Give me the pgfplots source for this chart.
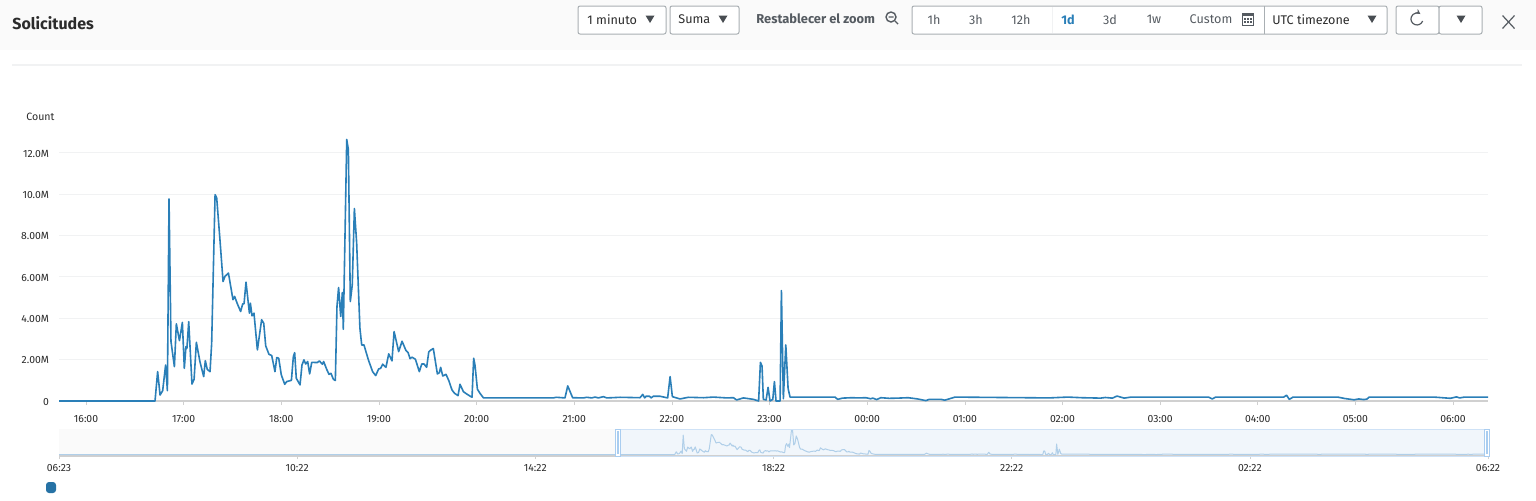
\documentclass[border=0pt]{standalone}
\usepackage{fontspec}
\setmainfont{Fira Sans}
\usepackage{pgfplots}
\usepackage{pgfplotstable}
\usetikzlibrary{arrows.meta}
\pgfplotsset{compat=1.18}

\definecolor{linecol}{HTML}{2A7FB8}
\definecolor{navline}{HTML}{B0CFE9}
\definecolor{gridcol}{HTML}{F1F2F3}
\definecolor{axiscol}{HTML}{D0D0D0}
\definecolor{headbg}{HTML}{FAFAFA}
\definecolor{boxcol}{HTML}{A9AFB3}
\definecolor{textcol}{HTML}{2B2B2B}
\definecolor{mutecol}{HTML}{555B61}
\definecolor{navsel}{HTML}{F1F6FB}
\definecolor{navedge}{HTML}{CFE2F6}
\definecolor{navhandle}{HTML}{A9CDF0}

% t = minutes since 16:00, v = requests in millions
\pgfplotstableread{
t v
-579 0
42.4 0
44.0 1.42
45.5 0.29
47.1 0.50
48.9 1.74
50.0 0.50
51.0 9.77
52.2 2.88
54.3 1.66
55.5 3.73
57.4 2.92
59.2 3.80
60.4 1.58
61.4 2.63
62.0 2.55
63.1 3.84
65.1 0.82
66.4 1.05
67.8 2.84
70.0 1.90
72.3 1.18
73.3 1.95
74.5 1.53
76.2 1.42
77.2 2.79
79.3 9.98
80.3 9.82
82.3 7.80
84.2 5.78
85.4 6.03
87.5 6.19
90.3 4.90
91.3 5.06
93.0 4.70
95.0 4.33
96.3 4.70
97.1 4.70
98.3 5.75
100.4 4.25
101.0 4.73
102.0 4.12
103.2 4.25
105.3 2.47
107.9 3.93
109.2 3.76
110.4 2.67
112.4 2.26
114.1 2.20
116.1 1.42
117.2 2.10
118.4 2.07
120.0 1.26
122.1 0.81
123.3 0.94
126.2 1.00
127.4 2.15
128.2 2.34
129.2 1.10
131.5 0.78
132.7 1.74
133.9 1.99
135.0 1.79
136.2 1.91
137.4 1.31
138.7 1.87
142.1 1.86
143.4 1.94
145.2 1.78
146.0 1.91
147.9 1.53
149.3 1.29
150.5 1.34
152.0 1.05
153.2 0.99
154.2 4.57
155.2 5.49
156.5 4.09
157.5 5.25
158.1 3.47
160.2 12.65
161.2 12.16
162.4 4.81
163.6 5.62
164.9 9.31
166.3 7.64
168.3 3.52
169.4 2.71
170.8 2.71
173.5 1.99
176.1 1.42
178.0 1.23
179.8 1.55
181.0 1.58
182.3 1.78
184.3 1.63
186.0 2.28
188.0 1.94
189.3 3.36
192.1 2.39
194.2 2.89
196.6 2.44
197.9 2.34
199.1 2.05
200.3 2.12
202.4 2.02
204.8 1.42
206.3 1.79
207.7 1.79
209.3 1.63
210.6 2.37
211.8 2.46
213.4 2.54
215.9 1.31
217.1 1.37
217.9 1.63
219.2 1.21
221.2 1.29
222.9 0.99
224.9 0.53
226.5 0.37
228.6 0.26
229.8 0.81
231.9 0.45
234.3 0.32
237.2 0.18
238.2 2.07
239.0 1.74
240.5 0.57
242.1 0.37
244.2 0.15
287.2 0.15
288.8 0.18
294.3 0.15
296.0 0.73
299.0 0.16
305.6 0.15
307.7 0.18
310.7 0.15
312.8 0.19
314.8 0.15
317.9 0.21
320.0 0.15
323.0 0.16
328.2 0.18
340.4 0.16
342.1 0.32
343.3 0.15
344.1 0.23
346.2 0.23
347.2 0.15
348.6 0.23
352.7 0.23
357.4 0.15
358.9 1.18
360.3 0.21
365.0 0.10
370.1 0.18
379.4 0.16
385.5 0.19
393.7 0.15
397.8 0.16
399.8 0.05
403.9 0.15
410.1 0.08
413.3 0
414.4 1.87
415.4 1.69
416.2 0.08
417.9 0.05
419.1 0.66
420.3 0
422.0 0.08
423.0 0.94
424.0 0
426.5 0
427.3 5.34
428.5 0.11
430.0 2.71
431.4 0.61
432.6 0.19
460.2 0.19
461.9 0.08
464.8 0.14
470.5 0.16
474.9 0.15
479.2 0.16
482.1 0.11
483.5 0.14
485.8 0.07
488.4 0.16
493.6 0.13
498.8 0.14
505.2 0.16
511.0 0.10
516.1 0.02
518.1 0.08
525.4 0.08
527.7 0.04
534.0 0.19
591.7 0.15
603.2 0.19
611.9 0.16
623.4 0.14
626.3 0.17
630.7 0.14
633.5 0.24
637.9 0.14
642.2 0.19
689.8 0.19
692.1 0.10
694.1 0.19
736.0 0.19
737.7 0.28
739.4 0.08
741.7 0.19
769.1 0.19
773.5 0.12
779.2 0.06
782.1 0.10
785.0 0.07
787.0 0.09
788.5 0.19
828.3 0.19
838.4 0.13
842.1 0.20
844.1 0.15
847.0 0.19
861.5 0.19
}\reqdata

% small drop-down arrow, centred on the given pixel
\newcommand{\droptri}[2]{\fill[mutecol!85!black] (#1-4.5,#2-3.5) -- (#1+4.5,#2-3.5) -- (#1,#2+4) -- cycle;}

\begin{document}
\begin{tikzpicture}[x=0.5pt,y=-0.5pt,
    lab/.style={font=\fontsize{6.3}{7.5}\selectfont,text=textcol,inner sep=0pt},
    btn/.style={draw=boxcol,line width=0.5pt,fill=white,rounded corners=1pt}]
\path[use as bounding box] (0,0) rectangle (1536,500);
\fill[white] (0,0) rectangle (1536,500);
\fill[headbg] (0,0) rectangle (1536,50);
\draw[gridcol,line width=0.6pt] (12,65) -- (1522,65);

\node[anchor=west,inner sep=0pt,text=textcol,font=\fontsize{8}{9.5}\selectfont\bfseries] at (12,23) {Solicitudes};

\draw[btn] (578,6) rectangle (666,34);
\node[lab,anchor=west] at (587,19.5) {1 minuto};
\droptri{650}{19}
\draw[btn] (670,6) rectangle (739,34);
\node[lab,anchor=west] at (678,19.5) {Suma};
\droptri{723}{19}

\node[lab,anchor=west,text=mutecol,font=\fontsize{6.45}{7.5}\selectfont\bfseries] at (756,18.5) {Restablecer el zoom};
\draw[mutecol,line width=0.7pt] (891,17) circle[radius=5];
\draw[mutecol,line width=0.7pt] (888.5,17) -- (893.5,17) (895,21) -- (898,24);

\draw[btn] (912,6) rectangle (1387,34);
\draw[gridcol,line width=0.5pt] (1052,7) -- (1052,33);
\draw[boxcol,line width=0.4pt] (1264,6) -- (1264,34);
\foreach \xc/\txt in {934/1h,976/3h,1021/12h,1110/3d,1154/1w}
  \node[lab,text=mutecol] at (\xc,19.5) {\txt};
\node[lab,text=linecol,font=\fontsize{6.3}{7.5}\selectfont\bfseries] at (1068,19.5) {1d};
\node[lab,text=mutecol] at (1211,19.5) {Custom};
\draw[mutecol,line width=0.4pt] (1242,13) rectangle (1253,25);
\fill[mutecol] (1242,13) rectangle (1253,16);
\foreach \gx in {1244,1247,1250} \foreach \gy in {18,21}
  \fill[mutecol] (\gx,\gy) rectangle +(1.8,1.8);
\node[lab] at (1311,19.5) {UTC timezone};
\droptri{1372}{19}

\draw[btn] (1396,6) rectangle (1439,34);
\draw[btn] (1439,6) rectangle (1482,34);
\draw[mutecol,line width=0.6pt,-{Stealth[length=2.5pt,width=2.5pt]}] (1422.6,21) arc[start angle=20,end angle=305,radius=6];
\droptri{1461}{19}
\draw[mutecol,line width=0.6pt] (1502.5,15.5) -- (1514.5,28.5) (1514.5,15.5) -- (1502.5,28.5);

\node[anchor=west,inner sep=0pt,text=textcol,font=\fontsize{5.3}{6}\selectfont] at (26,117) {Count};

% main chart
\begin{axis}[
    at={(29.5pt,-200.5pt)}, anchor=south west,
    scale only axis, width=714.5pt, height=134.4pt,
    xmin=-16.6, xmax=861.5, ymin=0, ymax=13,
    axis x line=bottom, axis y line=left,
    axis line style={-},
    x axis line style={draw=axiscol,line width=1pt},
    y axis line style={draw=none},
    xtick={0,60,...,840},
    xticklabels={16:00,17:00,18:00,19:00,20:00,21:00,22:00,23:00,00:00,01:00,02:00,03:00,04:00,05:00,06:00},
    ytick={0,2,4,6,8,10,12},
    yticklabels={0,2.00M,4.00M,6.00M,8.00M,10.0M,12.0M},
    ymajorgrids, grid style={gridcol,line width=0.5pt},
    tick align=outside, major tick length=2pt,
    x tick style={draw=axiscol,line width=0.3pt},
    y tick style={draw=none},
    tick label style={font=\fontsize{5.2}{6}\selectfont,text=textcol},
    xticklabel style={yshift=-1.5pt},
    yticklabel style={xshift=0.5pt,yshift=-0.4pt},
]
\addplot[linecol,line width=0.8pt,line join=round] table[x=t,y=v] {\reqdata};
\end{axis}

% navigator strip
\fill[headbg] (59,429) rectangle (617,456);
\fill[navsel] (617,429) rectangle (1488,456);
\begin{axis}[
    at={(29.5pt,-228pt)}, anchor=south west,
    scale only axis, width=714.5pt, height=13.5pt,
    xmin=-578, xmax=862, ymin=-0.7, ymax=12.8,
    axis x line=bottom, axis y line=none,
    axis line style={-},
    x axis line style={draw=axiscol,line width=1pt},
    xtick={-578,-338,-98,142,382,622,862},
    xticklabels={06:23,10:22,14:22,18:22,22:22,02:22,06:22},
    tick align=outside, major tick length=1.5pt,
    x tick style={draw=axiscol,line width=0.3pt},
    tick label style={font=\fontsize{5.2}{6}\selectfont,text=textcol},
    xticklabel style={yshift=1pt},
]
\addplot[navline,line width=0.5pt,line join=round] table[x=t,y=v] {\reqdata};
\end{axis}
\draw[navedge,line width=0.5pt] (617,429) rectangle (1488,456);
\foreach \hx in {617,1486} {
  \fill[white] (\hx-2,429) rectangle (\hx+3,456);
  \draw[navhandle,line width=0.4pt] (\hx-2,429) rectangle (\hx+3,456);
  \fill[navhandle] (\hx-0.5,431) rectangle (\hx+1.5,454);
}

% legend swatch, series has no name
\fill[linecol!90!black,rounded corners=1.5pt] (46,482) rectangle (56,493);
\end{tikzpicture}
\end{document}
